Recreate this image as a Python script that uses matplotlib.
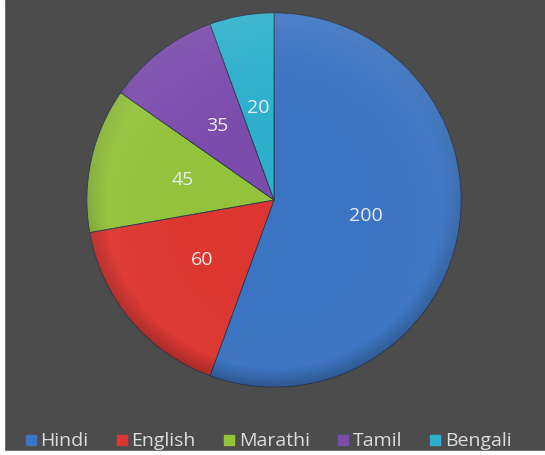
import matplotlib.pyplot as plt
import numpy as np
from matplotlib.patches import Circle, Rectangle

# data
languages = ['Hindi', 'English', 'Marathi', 'Tamil', 'Bengali']
speakers = [200, 60, 45, 35, 20]
colors = ['#3b74c2', '#dd3631', '#93c23b', '#7c4cad', '#2eb0cc']

plt.rcParams['font.family'] = ['Open Sans', 'DejaVu Sans']

fig = plt.figure(figsize=(5.45, 4.55), dpi=100, facecolor='#4c4c4c')

# pie centre at (274, 200) px from top-left, radius 189 px
W, H = 545, 455
cx, cy, r = 274, 255, 189
ax = fig.add_axes([(cx - r) / W, (cy - r) / H, 2 * r / W, 2 * r / H])
ax.set_facecolor('#4c4c4c')

wedges, texts, autotexts = ax.pie(
    speakers, colors=colors, startangle=90, counterclock=False,
    autopct=lambda p: '%d' % round(p * sum(speakers) / 100),
    pctdistance=0.5, radius=1,
    wedgeprops=dict(edgecolor='#2a3a50', linewidth=0.6),
    textprops=dict(color='#ececec', fontsize=14))

# soft shading to mimic the glossy look
n = 300
yy, xx = np.mgrid[-1:1:n * 1j, -1:1:n * 1j]
rr = np.sqrt(xx ** 2 + yy ** 2)
shade = np.zeros((n, n, 4))
shade[..., :3] = 1.0
shade[..., 3] = np.clip(0.10 * (rr ** 3) * (0.6 + 0.4 * yy), 0, 0.18)
im = ax.imshow(shade, extent=(-1, 1, -1, 1), origin='lower', zorder=3)
im.set_clip_path(Circle((0, 0), 1, transform=ax.transData))
dark = np.zeros((n, n, 4))
dark[..., 3] = np.clip(0.25 * np.clip(rr - 0.9, 0, None) * 10 * (0.5 - 0.5 * yy), 0, 0.25)
im2 = ax.imshow(dark, extent=(-1, 1, -1, 1), origin='lower', zorder=3)
im2.set_clip_path(Circle((0, 0), 1, transform=ax.transData))
for t in autotexts:
    t.set_zorder(5)
ax.set_xlim(-1.01, 1.01)
ax.set_ylim(-1.01, 1.01)
ax.axis('off')

handles = [plt.Line2D([], [], marker='s', linestyle='', markersize=7,
                      markerfacecolor=c, markeredgecolor=c) for c in colors]
leg = fig.legend(handles, languages, loc='center', bbox_to_anchor=(0.493, 0.03),
                 ncol=5, frameon=False, handlelength=0.5, handletextpad=0.25,
                 columnspacing=1.45, fontsize=14)
for t in leg.get_texts():
    t.set_color('#dcdcdc')

# thin light border along the left and bottom edge
fig.patches.append(Rectangle((0, 0), 4 / W, 1, transform=fig.transFigure,
                             color='white', zorder=10))
fig.patches.append(Rectangle((0, 0), 1, 4 / H, transform=fig.transFigure,
                             color='white', zorder=10))

fig.savefig('out.png', dpi=100, facecolor=fig.get_facecolor())
